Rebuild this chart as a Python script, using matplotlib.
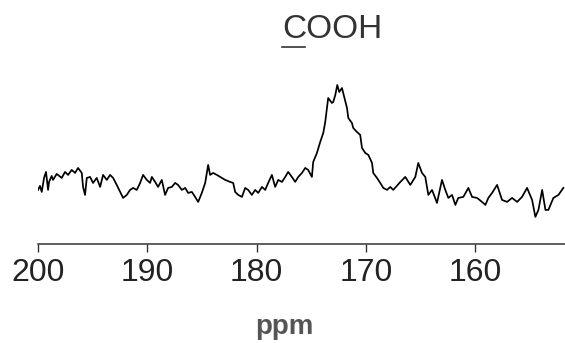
import numpy as np
import matplotlib
matplotlib.use("Agg")
import matplotlib.pyplot as plt
from matplotlib.lines import Line2D

# chemical shift (ppm) and intensity (arb. units)
ppm = [200.0, 199.82, 199.66, 199.54, 199.45, 199.27, 199.08, 198.99, 198.75, 198.63,
       198.29, 197.83, 197.53, 197.25, 196.92, 196.61, 196.34, 196.00, 195.88, 195.70,
       195.54, 195.24, 194.97, 194.63, 194.32, 194.05, 193.71, 193.41, 193.13, 192.80,
       192.49, 192.22, 191.88, 191.58, 191.30, 190.97, 190.66, 190.39, 190.05, 189.75,
       189.59, 189.29, 189.02, 188.68, 188.38, 188.10, 187.76, 187.46, 187.19, 186.85,
       186.54, 186.27, 185.93, 185.63, 185.35, 185.02, 184.71, 184.44, 184.26, 183.98,
       183.64, 183.34, 182.88, 182.43, 182.15, 181.97, 181.69, 181.35, 181.05, 180.78,
       180.44, 180.14, 179.86, 179.52, 179.22, 178.95, 178.61, 178.31, 178.03, 177.69,
       177.39, 177.12, 176.78, 176.48, 176.20, 175.86, 175.56, 175.29, 174.95, 174.83,
       174.49, 174.19, 173.91, 173.73, 173.57, 173.46, 173.12, 173.00, 172.81, 172.63,
       172.45, 172.20, 171.99, 171.74, 171.62, 171.29, 171.17, 170.83, 170.53, 170.37,
       170.07, 169.79, 169.45, 169.34, 169.00, 168.70, 168.42, 168.08, 167.78, 167.51,
       166.86, 166.41, 165.95, 165.49, 165.22, 164.88, 164.58, 164.30, 163.96, 163.51,
       163.05, 162.75, 162.47, 162.13, 161.83, 161.56, 161.10, 160.64, 160.30, 159.84,
       159.39, 159.08, 158.81, 158.47, 158.01, 157.56, 157.10, 156.64, 156.18, 155.73,
       155.27, 154.81, 154.51, 154.23, 153.89, 153.59, 153.32, 152.86, 152.40, 151.95]

intensity = [30, 34, 28, 36, 42, 48, 30, 38, 44, 40,
             46, 42, 48, 45, 50, 47, 52, 47, 33, 25,
             42, 43, 37, 42, 33, 45, 40, 45, 42, 35,
             28, 22, 25, 30, 32, 30, 37, 45, 40, 37,
             43, 38, 33, 40, 25, 32, 33, 37, 35, 30,
             32, 27, 28, 23, 18, 27, 37, 55, 45, 47,
             45, 43, 40, 38, 37, 28, 25, 23, 32, 30,
             25, 30, 27, 33, 30, 37, 45, 33, 40, 38,
             43, 48, 43, 38, 43, 47, 52, 50, 43, 58,
             67, 78, 87, 98, 112, 122, 117, 118, 125, 135,
             128, 132, 123, 112, 102, 97, 92, 88, 85, 72,
             67, 65, 57, 47, 42, 37, 32, 30, 33, 30,
             38, 43, 35, 43, 57, 47, 43, 25, 30, 17,
             40, 30, 22, 25, 15, 22, 23, 32, 23, 22,
             18, 15, 22, 27, 35, 20, 18, 22, 18, 23,
             32, 20, 3, 10, 30, 10, 10, 22, 25, 32]

xticks = [200, 190, 180, 170, 160]

fig = plt.figure(figsize=(5.65, 3.43), dpi=100)
ax = fig.add_axes([0.0673, 0.289, 0.9327, 0.536])

ax.plot(ppm, intensity, color="black", linewidth=1.25)

ax.set_xlim(200, 151.8)
ax.set_ylim(-24, 160)
ax.set_xticks(xticks)
ax.set_xticklabels([str(t) for t in xticks], fontfamily="Liberation Sans",
                   fontsize=23, color="#222222")
ax.tick_params(axis="x", direction="out", length=6, width=1.0,
               color="#333333", pad=4)
ax.set_yticks([])
for side in ["left", "right", "top"]:
    ax.spines[side].set_visible(False)
ax.spines["bottom"].set_color("#333333")
ax.spines["bottom"].set_linewidth(1.1)

fig.text(0.589, 0.915, "COOH", ha="center", va="center",
         fontfamily="Liberation Sans", fontsize=24, color="#333333")
fig.add_artist(Line2D([282 / 565, 305 / 565], [0.863, 0.863],
                      transform=fig.transFigure, color="#333333", linewidth=1.2))

fig.text(0.504, 0.026, "ppm", ha="center", va="baseline",
         fontfamily="Liberation Sans", fontsize=20, fontweight="bold",
         color="#555555")

fig.savefig("out.png", dpi=100)
